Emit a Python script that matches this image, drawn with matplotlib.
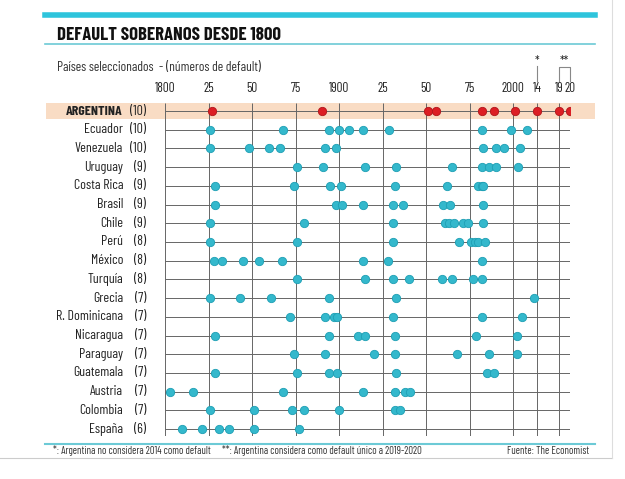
import matplotlib
matplotlib.use("Agg")
import matplotlib.pyplot as plt
import matplotlib.transforms as mtransforms
from matplotlib.patches import Rectangle
from matplotlib.lines import Line2D
import numpy as np

plt.rcParams['font.family'] = ['Barlow Condensed', 'Saira SemiCondensed', 'DejaVu Sans']

# --- data ---
countries = ["ARGENTINA", "Ecuador", "Venezuela", "Uruguay", "Costa Rica", "Brasil",
             "Chile", "Perú", "México", "Turquía", "Grecia", "R. Dominicana",
             "Nicaragua", "Paraguay", "Guatemala", "Austria", "Colombia", "España"]
counts = [10, 10, 10, 9, 9, 9, 9, 8, 8, 8, 7, 7, 7, 7, 7, 7, 7, 6]

argentina = [1827, 1890, 1951, 1956, 1982, 1989, 2001, 2014, 2019, 2020]
ecuador = [1826, 1868, 1894, 1900, 1906, 1914, 1929, 1982, 1999, 2008]
venezuela = [1826, 1848, 1860, 1866, 1892, 1898, 1983, 1990, 1995, 2004]
uruguay = [1876, 1891, 1915, 1933, 1965, 1982, 1986, 1990, 2003]
costa_rica = [1829, 1874, 1895, 1901, 1932, 1962, 1980, 1982, 1983]
brasil = [1829, 1898, 1902, 1914, 1931, 1937, 1960, 1964, 1983]
chile = [1826, 1880, 1931, 1961, 1963, 1966, 1971, 1974, 1983]
peru = [1826, 1876, 1931, 1969, 1976, 1978, 1980, 1984]
mexico = [1828, 1833, 1845, 1854, 1867, 1914, 1928, 1982]
turquia = [1876, 1915, 1931, 1940, 1959, 1965, 1977, 1982]
grecia = [1826, 1843, 1861, 1894, 1933, 2012]
r_dominicana = [1872, 1892, 1897, 1899, 1931, 1982, 2005]
nicaragua = [1829, 1894, 1911, 1915, 1932, 1979, 2002]
paraguay = [1874, 1892, 1920, 1932, 1968, 1986, 2002]
guatemala = [1829, 1876, 1894, 1899, 1933, 1985, 1989]
austria = [1803, 1816, 1868, 1914, 1932, 1938, 1941]
colombia = [1826, 1851, 1873, 1880, 1900, 1932, 1935]
espana = [1810, 1821, 1831, 1837, 1851, 1877]

defaults = [argentina, ecuador, venezuela, uruguay, costa_rica, brasil, chile, peru,
            mexico, turquia, grecia, r_dominicana, nicaragua, paraguay, guatemala,
            austria, colombia, espana]

tick_years = [1800, 1825, 1850, 1875, 1900, 1925, 1950, 1975, 2000, 2014, 2019, 2020]
tick_labels = ["1800", "25", "50", "75", "1900", "25", "50", "75", "2000", "14", "19", "20"]

# the graphic stretches the last years (2014-2020) apart
yr_knots = [1700, 2014, 2019, 2020, 2100]
pos_knots = [-174.0, 372.4, 394.0, 405.0, 544.2]


def fwd(x):
    return np.interp(x, yr_knots, pos_knots)


def inv(p):
    return np.interp(p, pos_knots, yr_knots)


W, H = 625, 479
fig = plt.figure(figsize=(W / 100, H / 100), dpi=100)


def fx(x):
    return x / W


def fy(y):
    return 1 - y / H


cyan = "#34b8cc"
cyan_edge = "#1e9fb4"
red = "#dc1e24"
red_edge = "#b0161a"
grid_c = "#666666"
txt_c = "#222222"

# main axes: x from 1800 (165 px) to 2020 (570 px), y from 103 to 436 px
ax = fig.add_axes([fx(165), fy(436), fx(570) - fx(165), (436 - 103) / H])
ax.set_facecolor("none")
ax.set_xscale("function", functions=(fwd, inv))
ax.set_xlim(1800, 2020)
ax.set_ylim(17.37, -0.43)
for s in ax.spines.values():
    s.set_visible(False)
ax.set_yticks([])
ax.set_xticks(tick_years)
ax.set_xticklabels(tick_labels, fontsize=9.5, color=txt_c)
ax.xaxis.set_minor_locator(matplotlib.ticker.NullLocator())
ax.tick_params(top=True, labeltop=True, bottom=False, labelbottom=False, length=0, pad=6)

rows = np.arange(len(countries))

# Argentina highlight band
band_tr = mtransforms.blended_transform_factory(fig.transFigure, ax.transData)
ax.add_patch(Rectangle((fx(46), -0.43), fx(595) - fx(46), 0.84, transform=band_tr,
                       facecolor="#f9dcc4", edgecolor="none", clip_on=False, zorder=0.5))

ax.hlines(rows, 1800, 2020, color=grid_c, lw=0.7, zorder=1)
ax.vlines(tick_years, -0.43, 17.37, color=grid_c, lw=0.7, zorder=1)

for i, yrs in enumerate(defaults):
    if i == 0:
        fc, ec = red, red_edge
    else:
        fc, ec = cyan, cyan_edge
    ax.scatter(yrs, [i] * len(yrs), s=36, color=fc, edgecolor=ec, linewidth=0.6, zorder=3)

# row labels
for i, (name, n) in enumerate(zip(countries, counts)):
    w = "bold" if i == 0 else "normal"
    ax.text(fx(123), i, name, transform=band_tr, ha="right", va="center",
            fontsize=10, fontweight=w, color=txt_c)
    ax.text(fx(146), i, "(%d)" % n, transform=band_tr, ha="right", va="center",
            fontsize=10, color=txt_c)

# asterisks above 2014 and 2019-2020
star_tr = mtransforms.blended_transform_factory(ax.transData, fig.transFigure)
ax.text(2014, fy(62), "*", transform=star_tr, ha="center", va="center", fontsize=9, color=txt_c)
ax.add_line(Line2D([2014, 2014], [fy(66), fy(81)], transform=star_tr, color="#888888",
                   lw=0.8, clip_on=False))
ax.text(2019.5, fy(62), "**", transform=star_tr, ha="center", va="center", fontsize=9, color=txt_c)
ax.add_line(Line2D([2019, 2019, 2020, 2020], [fy(81), fy(67), fy(67), fy(81)], transform=star_tr,
                   color="#888888", lw=0.8, clip_on=False))

# header
fig.add_artist(Line2D([fx(45), fx(595)], [fy(14.5), fy(14.5)], color="#2ec4dc", lw=4))
fig.text(fx(57), fy(35), "DEFAULT SOBERANOS DESDE 1800", fontsize=13.5, fontweight="bold",
         color="#111111", ha="left", va="center")
fig.add_artist(Line2D([fx(45), fx(595)], [fy(44), fy(44)], color="#6ccad6", lw=1.2))
fig.text(fx(57), fy(68), "Países seleccionados  - (números de default)", fontsize=9.7,
         color="#333333", ha="left", va="center")

# footer
fig.add_artist(Line2D([fx(45), fx(595)], [fy(443.5), fy(443.5)], color="#6ccad6", lw=1.5))
fig.text(fx(53), fy(451), "*: Argentina no considera 2014 como default", fontsize=7.6,
         color="#333333", ha="left", va="center")
fig.text(fx(222), fy(451), "**: Argentina considera como default único a 2019-2020", fontsize=7.6,
         color="#333333", ha="left", va="center")
fig.text(fx(589), fy(451), "Fuente: The Economist", fontsize=7.6,
         color="#333333", ha="right", va="center")
fig.add_artist(Line2D([0, fx(612)], [fy(457.5), fy(457.5)], color="#cccccc", lw=0.8))
fig.add_artist(Line2D([fx(612), fx(612)], [fy(0), fy(457.5)], color="#dddddd", lw=0.8))

fig.savefig("out.png", dpi=100)
